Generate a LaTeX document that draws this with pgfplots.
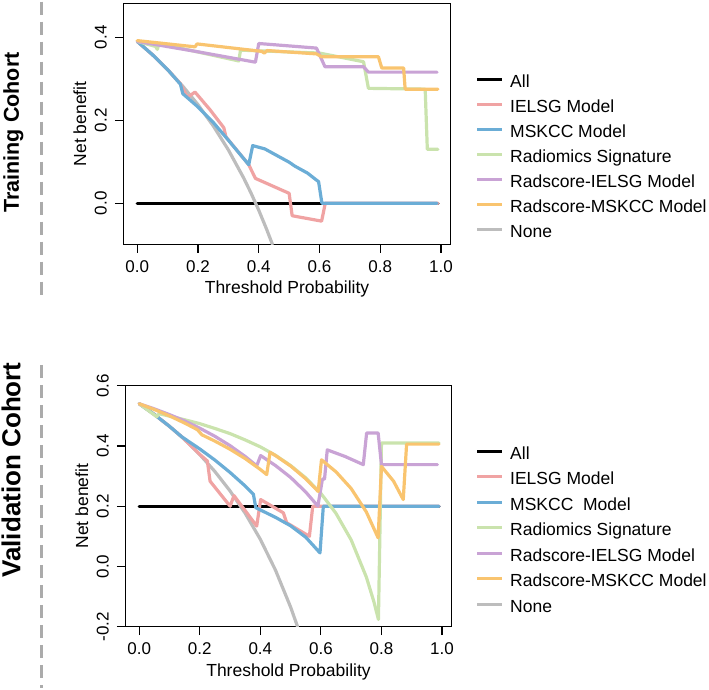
\documentclass[border=0pt]{standalone}
\usepackage{fontspec}
\setmainfont{Liberation Sans}
\usepackage{pgfplots}
\pgfplotsset{compat=1.18}

\definecolor{cAll}{HTML}{000000}
\definecolor{cIELSG}{HTML}{F0A3A3}
\definecolor{cMSKCC}{HTML}{6BADD6}
\definecolor{cRad}{HTML}{CAE3AD}
\definecolor{cRI}{HTML}{C9A3D5}
\definecolor{cRM}{HTML}{F9C46F}
\definecolor{cNone}{HTML}{BDBDBD}
\definecolor{cDash}{HTML}{ABABAB}

\pgfplotsset{
  dca/.style={
    scale only axis,
    axis line style={line width=1.3pt},
    tick style={line width=1.1pt, black},
    tick align=outside,
    major tick length=8.5pt,
    xtick pos=bottom, ytick pos=left,
    xmin=-0.046, xmax=1.032,
    xtick={0,0.2,0.4,0.6,0.8,1},
    xticklabels={0.0,0.2,0.4,0.6,0.8,1.0},
    /pgf/number format/assume math mode=true,
    tick label style={font=\fontsize{17}{20}\selectfont},
    xticklabel style={anchor=center},
    yticklabel style={rotate=90, anchor=center},
    xticklabel shift=13.9pt,
    yticklabel shift=14pt,
    every axis x label/.style={at={(rel axis cs:0.5,0)}, anchor=center, yshift=-45pt,
      font=\fontsize{17.5}{20}\selectfont},
    every axis y label/.style={at={(rel axis cs:0,0.5)}, xshift=-43.5pt, rotate=90, anchor=center,
      font=\fontsize{17.5}{20}\selectfont},
    xlabel={Threshold Probability},
    ylabel={Net benefit},
    every axis plot/.append style={line width=3.2pt, line cap=round, line join=round},
  }
}

\begin{document}
\begin{tikzpicture}[x=1pt,y=1pt]
\path (0,0) rectangle (709,688);

% ---------------- Training cohort ----------------
\begin{axis}[dca,
  at={(123.3pt,443.7pt)}, anchor=south west,
  width=327.4pt, height=241pt,
  ymin=-0.0988, ymax=0.4819,
  ytick={0,0.2,0.4}, yticklabels={0.0,0.2,0.4}]
\addplot[cAll] coordinates {(0,0) (0.99,0)};
\addplot[cNone] coordinates {(0,0.39) (0.05,0.358) (0.1,0.322) (0.15,0.282) (0.2,0.2375)
  (0.25,0.1867) (0.3,0.1286) (0.35,0.0615) (0.375,0.024) (0.4,-0.0167) (0.425,-0.061) (0.445,-0.0988)};
\addplot[cIELSG] coordinates {(0,0.39) (0.05,0.358) (0.1,0.322) (0.142,0.288) (0.165,0.255)
  (0.19,0.268) (0.24,0.225) (0.285,0.182) (0.292,0.16) (0.33,0.126) (0.367,0.093) (0.389,0.06)
  (0.5,0.024) (0.51,-0.03) (0.607,-0.043) (0.619,0) (0.99,0)};
\addplot[cMSKCC] coordinates {(0,0.39) (0.05,0.358) (0.1,0.322) (0.142,0.287) (0.15,0.264)
  (0.2,0.232) (0.25,0.195) (0.3,0.152) (0.35,0.108) (0.367,0.093) (0.38,0.139) (0.42,0.131)
  (0.455,0.117) (0.5,0.099) (0.52,0.089) (0.56,0.073) (0.597,0.052) (0.608,0) (0.987,0)};
\addplot[cRad] coordinates {(0,0.39) (0.06,0.378) (0.066,0.371) (0.072,0.385) (0.334,0.343)
  (0.34,0.369) (0.6,0.362) (0.745,0.341) (0.761,0.277) (0.948,0.275) (0.955,0.13) (0.99,0.13)};
\addplot[cRI] coordinates {(0,0.39) (0.2,0.365) (0.389,0.34) (0.4,0.385) (0.59,0.374)
  (0.618,0.329) (0.745,0.329) (0.761,0.316) (0.987,0.316)};
\addplot[cRM] coordinates {(0,0.392) (0.19,0.377) (0.197,0.384) (0.41,0.366) (0.418,0.362)
  (0.428,0.368) (0.59,0.36) (0.607,0.353) (0.794,0.353) (0.805,0.326) (0.877,0.326)
  (0.882,0.275) (0.99,0.275)};
\end{axis}

% ---------------- Validation cohort ----------------
\begin{axis}[dca,
  at={(125.3pt,61.3pt)}, anchor=south west,
  width=326.4pt, height=241pt,
  ymin=-0.2, ymax=0.6,
  ytick={-0.2,0,0.2,0.4,0.6}, yticklabels={-0.2,0.0,0.2,0.4,0.6}]
\addplot[cAll] coordinates {(0,0.2) (0.99,0.2)};
\addplot[cNone] coordinates {(0,0.54) (0.05,0.5045) (0.1,0.465) (0.15,0.4209) (0.2,0.3713)
  (0.25,0.315) (0.3,0.2507) (0.35,0.1765) (0.4,0.09) (0.45,-0.0123) (0.5,-0.135) (0.523,-0.2)};
\addplot[cIELSG] coordinates {(0,0.54) (0.05,0.5045) (0.1,0.465) (0.141,0.43) (0.2,0.372)
  (0.225,0.35) (0.234,0.283) (0.3,0.2) (0.313,0.235) (0.388,0.134) (0.401,0.222) (0.476,0.178)
  (0.487,0.145) (0.562,0.1) (0.573,0.2) (0.99,0.2)};
\addplot[cMSKCC] coordinates {(0,0.54) (0.05,0.5045) (0.1,0.465) (0.141,0.43) (0.2,0.39)
  (0.25,0.353) (0.3,0.312) (0.35,0.267) (0.377,0.24) (0.385,0.195) (0.45,0.163) (0.5,0.135)
  (0.55,0.097) (0.597,0.045) (0.608,0.2) (0.99,0.2)};
\addplot[cRad] coordinates {(0,0.54) (0.058,0.497) (0.065,0.507) (0.1,0.499) (0.15,0.487)
  (0.2,0.474) (0.25,0.458) (0.3,0.441) (0.35,0.42) (0.4,0.397) (0.45,0.369) (0.5,0.335)
  (0.55,0.294) (0.6,0.2425) (0.65,0.176) (0.7,0.088) (0.75,-0.035) (0.775,-0.117)
  (0.79,-0.176) (0.8,0.41) (0.99,0.41)};
\addplot[cRI] coordinates {(0,0.54) (0.05,0.523) (0.1,0.504) (0.15,0.483) (0.2,0.459)
  (0.25,0.432) (0.3,0.401) (0.35,0.365) (0.388,0.334) (0.401,0.368) (0.41,0.362) (0.45,0.335)
  (0.5,0.2955) (0.55,0.247) (0.586,0.205) (0.59,0.2) (0.605,0.29) (0.612,0.29) (0.621,0.387)
  (0.68,0.365) (0.74,0.338) (0.751,0.443) (0.789,0.443) (0.8,0.338) (0.985,0.338)};
\addplot[cRM] coordinates {(0,0.54) (0.05,0.521) (0.1,0.4998) (0.15,0.476) (0.192,0.454)
  (0.207,0.437) (0.25,0.416) (0.3,0.389) (0.35,0.358) (0.4,0.322) (0.421,0.305) (0.432,0.379)
  (0.45,0.368) (0.5,0.3335) (0.55,0.291) (0.591,0.249) (0.602,0.354) (0.65,0.314) (0.7,0.2586)
  (0.75,0.181) (0.789,0.095) (0.8,0.332) (0.84,0.283) (0.872,0.222) (0.883,0.406) (0.99,0.406)};
\end{axis}

% panel titles and separators
\node[rotate=90, inner sep=0pt, font=\bfseries\fontsize{21.5}{24}\selectfont] at (13.4,555.5) {Training Cohort};
\node[rotate=90, inner sep=0pt, font=\bfseries\fontsize{26}{30}\selectfont] at (11.2,218) {Validation Cohort};
\draw[cDash, line width=3.2pt, dash pattern=on 13pt off 7pt] (41.7,686.3) -- (41.7,388);
\draw[cDash, line width=3.2pt, dash pattern=on 13pt off 7pt] (41.7,323) -- (41.7,0);

% legends
\foreach \yc/\col/\txt in {80.8/cAll/All, 105.8/cIELSG/IELSG Model, 130.8/cMSKCC/MSKCC Model,
    155.8/cRad/Radiomics Signature, 180.8/cRI/Radscore-IELSG Model,
    205.8/cRM/Radscore-MSKCC Model, 230.8/cNone/None,
    452.8/cAll/All, 478.3/cIELSG/IELSG Model, 503.8/cMSKCC/MSKCC\ \ Model,
    529.3/cRad/Radiomics Signature, 554.8/cRI/Radscore-IELSG Model,
    580.3/cRM/Radscore-MSKCC Model, 605.8/cNone/None} {
  \draw[\col, line width=3pt] (477,688-\yc+1.5) -- (502,688-\yc+1.5);
  \node[anchor=base west, inner sep=0pt, font=\fontsize{17.5}{20}\selectfont] at (510,688-\yc-6.3) {\txt};
}
\end{tikzpicture}
\end{document}
